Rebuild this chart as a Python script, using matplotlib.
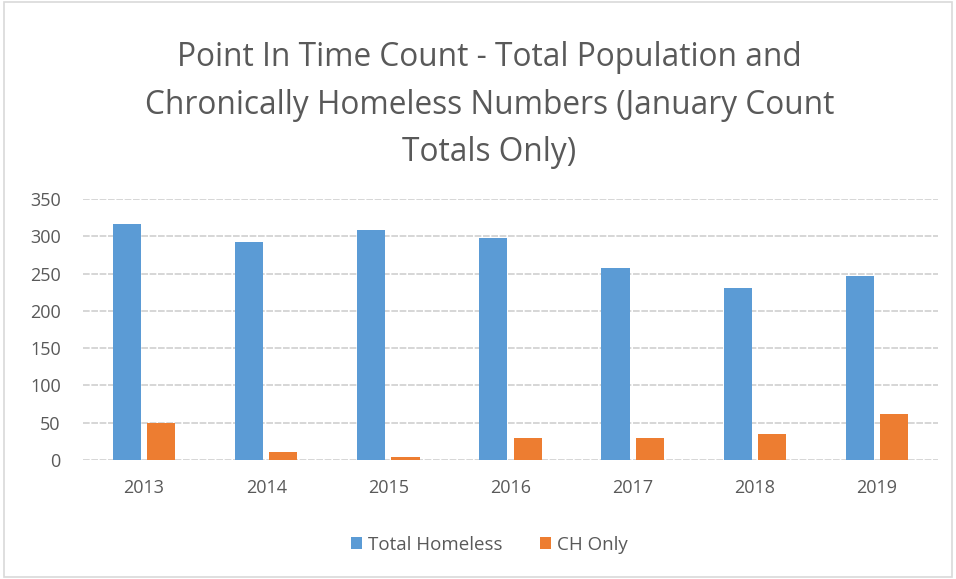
import matplotlib.pyplot as plt
import numpy as np

# data
years = ["2013", "2014", "2015", "2016", "2017", "2018", "2019"]
total_homeless = [317, 293, 308, 298, 258, 231, 247]
ch_only = [49, 11, 4, 30, 30, 35, 62]

title = "Point In Time Count - Total Population and\nChronically Homeless Numbers (January Count\nTotals Only)"

plt.rcParams['font.family'] = ['Open Sans', 'DejaVu Sans']
grey = "#595959"

fig = plt.figure(figsize=(9.56, 5.79), dpi=100)
ax = fig.add_axes([83 / 956, 1 - 460 / 579, (938 - 83) / 956, (460 - 199) / 579])

x = np.arange(len(years))
w = 0.23
ax.bar(x - 0.14, total_homeless, width=w, color="#5b9bd5", label="Total Homeless", zorder=3)
ax.bar(x + 0.14, ch_only, width=w, color="#ed7d31", label="CH Only", zorder=3)

ax.set_xlim(-0.5, len(years) - 0.5)
ax.set_ylim(0, 350)
ax.set_yticks(range(0, 351, 50))
ax.set_xticks(x)
ax.set_xticklabels(years)
ax.tick_params(axis="both", length=0, labelsize=13, colors=grey)
ax.tick_params(axis="x", pad=14)
ax.tick_params(axis="y", pad=16)
ax.grid(axis="y", color="#d0d0d0", linestyle=(0, (4, 1)), linewidth=1.2, zorder=0)
for s in ax.spines.values():
    s.set_visible(False)

fig.text(0.512, 1 - 105 / 579, title, ha="center", va="center", fontsize=22.8,
         color=grey, linespacing=1.58)

fig.legend(loc="center", bbox_to_anchor=(0.512, 1 - 545 / 579), ncol=2, frameon=False,
           fontsize=13.5, labelcolor=grey, handlelength=0.6, handleheight=0.6,
           handletextpad=0.3, columnspacing=2.0)

# light chart border
fig.patches.append(plt.Rectangle((0.004, 0.004), 0.992, 0.992, transform=fig.transFigure,
                                 fill=False, edgecolor="#d9d9d9", linewidth=1.2))

fig.savefig("out.png", dpi=100)
